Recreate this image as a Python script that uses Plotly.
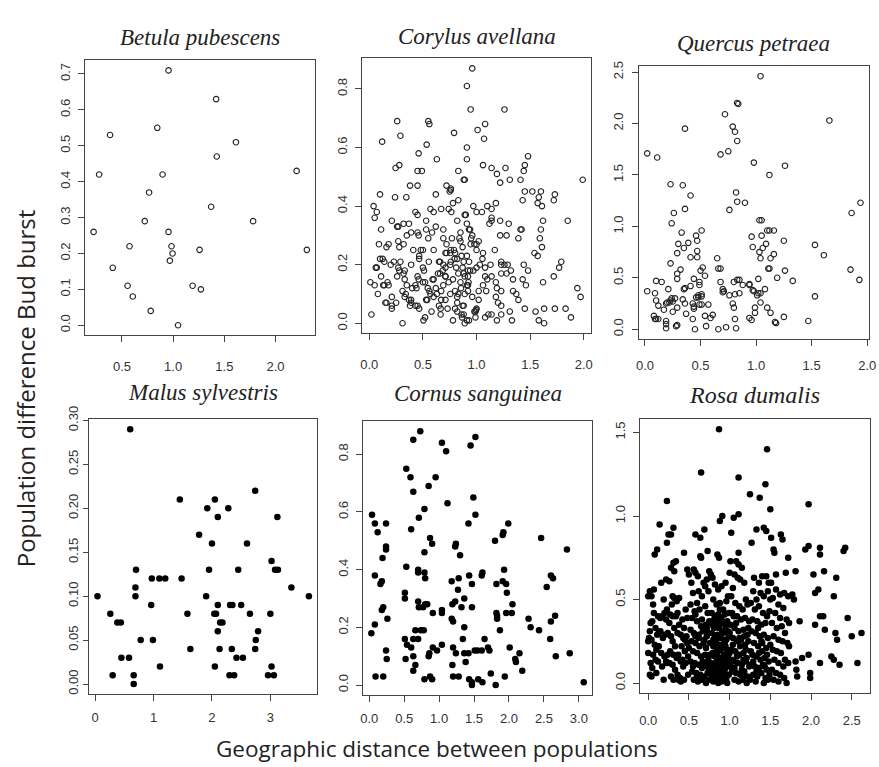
import plotly.graph_objects as go

W, H = 879, 767

# ---------------- data (x = geographic distance, y = bud burst difference) ----------------
betula = [(0.955,0.71),(1.42,0.63),(0.384,0.53),(0.845,0.55),(1.613,0.51),(1.426,0.47),(0.277,0.42),
          (0.897,0.42),(2.206,0.43),(0.765,0.37),(1.371,0.33),(0.723,0.29),(1.781,0.29),(0.223,0.26),
          (0.955,0.26),(0.574,0.22),(0.984,0.22),(0.994,0.20),(0.968,0.18),(1.258,0.21),(2.306,0.21),
          (0.41,0.16),(0.555,0.11),(1.19,0.11),(1.271,0.10),(0.606,0.08),(0.781,0.04),(1.048,0.00)]

corylus = [(0.96,0.87),(0.91,0.81),(0.945,0.73),(1.26,0.73),(0.26,0.69),(0.55,0.69),(0.56,0.68),(1.08,0.68),
 (1.01,0.66),(0.79,0.65),(0.29,0.64),(1.07,0.63),(0.12,0.62),(0.535,0.61),(0.91,0.60),(0.46,0.58),(1.48,0.57),
 (0.63,0.56),(0.91,0.56),(1.06,0.54),(1.45,0.54),(0.245,0.53),(0.28,0.54),(1.14,0.53),(1.27,0.53),(0.49,0.52),
 (0.45,0.52),(0.83,0.52),(1.44,0.52),(1.19,0.51),(1.31,0.49),(1.41,0.49),(0.88,0.49),(0.89,0.49),(1.99,0.49),
 (1.22,0.48),(0.38,0.47),(0.45,0.47),(0.72,0.47),(0.76,0.46),(0.76,0.455),(1.52,0.45),(1.60,0.45),(1.73,0.44),
 (1.45,0.45),(0.75,0.45),(0.10,0.44),(0.62,0.44),(1.58,0.43),(0.24,0.43),(0.345,0.43),(1.57,0.41),(1.43,0.42),
 (1.72,0.42),(0.83,0.42),(0.78,0.41),(1.18,0.41),(0.04,0.40),(0.97,0.40),(1.10,0.40),(1.61,0.40),(0.57,0.39),
 (0.67,0.39),(0.74,0.39),(1.14,0.39),(0.07,0.38),(0.43,0.38),(0.60,0.38),(0.765,0.38),(1.05,0.38),(1.00,0.38),
 (0.05,0.36),(1.14,0.36),(0.90,0.37),(0.45,0.37),(0.21,0.35),(0.53,0.35),(0.82,0.35),(1.85,0.35),(1.62,0.35),
 (1.14,0.35),(1.22,0.35),(0.32,0.34),(0.37,0.34),(0.91,0.34),(1.30,0.34),(1.12,0.34),(0.27,0.33),(0.26,0.33),
 (0.62,0.33),(0.11,0.32),(0.53,0.32),(0.69,0.32),(0.93,0.32),(1.41,0.32),(1.60,0.32),(1.42,0.32),(0.39,0.31),
 (0.45,0.31),(0.585,0.31),(0.85,0.31),(0.35,0.30),(0.46,0.30),(0.96,0.30),(1.22,0.30),(1.28,0.30),(1.39,0.29),
 (0.55,0.29),(0.77,0.29),(0.69,0.29),(0.84,0.29),(1.59,0.29),(0.27,0.28),(1.02,0.28),(0.09,0.27),(0.18,0.27),
 (0.32,0.27),(0.72,0.27),(0.945,0.27),(1.00,0.27),(0.16,0.26),(0.28,0.26),(0.79,0.25),(0.87,0.26),(1.00,0.25),
 (1.61,0.26),(0.41,0.25),(0.48,0.25),(0.50,0.25),(0.60,0.25),(0.755,0.24),(1.17,0.25),(1.54,0.24),(0.71,0.24),
 (1.06,0.24),(0.80,0.24),(0.465,0.23),(0.91,0.23),(1.57,0.23),(0.125,0.22),(0.10,0.22),(0.465,0.22),(0.795,0.22),
 (1.055,0.22),(0.14,0.21),(0.23,0.21),(0.29,0.21),(0.555,0.21),(0.66,0.21),(0.93,0.21),(1.23,0.21),(1.79,0.21),
 (0.20,0.20),(0.755,0.20),(1.03,0.20),(1.13,0.20),(1.26,0.20),(1.29,0.20),(1.23,0.20),(1.44,0.20),(0.07,0.19),
 (0.27,0.19),(0.50,0.19),(0.81,0.19),(1.00,0.19),(1.08,0.19),(1.77,0.19),(0.87,0.19),(0.33,0.18),(0.51,0.18),
 (0.685,0.18),(0.94,0.18),(1.32,0.18),(1.48,0.18),(0.32,0.17),(0.64,0.17),(0.88,0.17),(1.23,0.17),(1.28,0.17),
 (0.11,0.16),(0.45,0.16),(0.71,0.16),(0.92,0.16),(1.08,0.16),(1.14,0.16),(1.72,0.16),(0.33,0.15),(0.46,0.15),
 (0.60,0.15),(0.78,0.15),(1.10,0.15),(1.34,0.15),(1.43,0.15),(0.01,0.14),(0.50,0.14),(0.85,0.14),(0.925,0.14),
 (1.62,0.14),(1.18,0.14),(0.05,0.13),(0.14,0.13),(0.18,0.13),(0.35,0.13),(0.92,0.13),(1.46,0.13),(1.06,0.13),
 (0.40,0.12),(0.44,0.12),(0.545,0.12),(0.62,0.12),(0.855,0.12),(1.19,0.12),(1.94,0.12),(0.31,0.11),(0.67,0.11),
 (0.80,0.11),(1.02,0.11),(1.09,0.11),(1.34,0.11),(1.23,0.11),(0.34,0.10),(0.57,0.10),(0.755,0.10),(0.89,0.10),
 (1.37,0.10),(0.21,0.09),(0.33,0.09),(0.60,0.09),(0.82,0.09),(0.96,0.09),(1.18,0.09),(1.97,0.09),(0.37,0.08),
 (0.53,0.08),(0.67,0.08),(0.71,0.08),(1.02,0.08),(1.39,0.08),(0.15,0.07),(0.25,0.07),(0.39,0.07),(1.20,0.07),
 (0.21,0.06),(0.38,0.06),(0.43,0.06),(1.23,0.06),(0.87,0.06),(0.65,0.06),(0.21,0.05),(0.465,0.05),(0.665,0.05),
 (0.73,0.05),(0.80,0.05),(1.00,0.05),(1.45,0.05),(1.63,0.05),(1.73,0.05),(1.83,0.05),(0.58,0.04),(0.99,0.04),
 (0.995,0.045),(1.55,0.04),(1.31,0.04),(0.02,0.03),(0.665,0.03),(1.11,0.03),(1.14,0.03),(1.23,0.03),(0.86,0.03),
 (0.52,0.02),(0.865,0.02),(0.99,0.02),(1.08,0.02),(1.88,0.02),(0.505,0.01),(0.78,0.01),(1.19,0.01),(1.33,0.01),
 (1.58,0.01),(0.93,0.01),(0.31,0.00),(0.89,0.00),(1.63,0.00),
 (0.83,0.10),(0.82,0.07),(0.88,0.06),(0.82,0.04),(0.88,0.03),(0.91,0.01),(0.98,0.04),(0.92,0.11),(0.91,0.13),
 (0.89,0.16),(0.83,0.17),(0.97,0.18),(0.92,0.18),(0.88,0.21),(0.82,0.22),(0.76,0.21),(0.69,0.20),(0.66,0.17),
 (0.71,0.16),(0.71,0.19),(0.65,0.21),(0.72,0.24),(0.86,0.23),(0.69,0.13),(0.74,0.14),(0.59,0.15),(0.52,0.14),
 (0.56,0.11),(0.63,0.10),(0.54,0.08),(0.45,0.06),(0.39,0.08),(0.16,0.07),(0.08,0.10),(0.26,0.16),(0.28,0.18),
 (0.39,0.20),(0.43,0.13),(0.95,0.29),(0.98,0.27),(0.85,0.28),(0.76,0.25),(0.89,0.37),(0.94,0.32),(0.06,0.19),
 (0.13,0.13),(0.17,0.14)]

quercus = [(1.04,2.46),(0.83,2.20),(0.84,2.19),(0.72,2.09),(1.66,2.03),(0.79,1.97),(0.81,1.92),(0.36,1.95),
 (0.83,1.83),(0.02,1.71),(0.11,1.67),(0.68,1.70),(0.75,1.73),(0.98,1.62),(1.26,1.59),(1.12,1.50),(0.23,1.41),
 (0.34,1.40),(0.82,1.33),(0.41,1.30),(0.83,1.24),(0.90,1.23),(1.94,1.23),(0.36,1.17),(0.76,1.16),(0.26,1.13),
 (1.86,1.13),(1.03,1.06),(1.05,1.06),(0.24,1.03),(0.33,0.94),(1.10,0.96),(1.12,0.96),(1.16,0.96),(0.51,0.96),
 (0.46,0.91),(0.96,0.90),(1.05,0.91),(0.47,0.86),(1.25,0.86),(0.30,0.83),(0.39,0.84),(1.09,0.83),(0.97,0.80),
 (0.35,0.79),(1.06,0.79),(1.53,0.82),(0.47,0.76),(1.03,0.75),(1.16,0.73),(0.29,0.74),(1.61,0.72),(0.41,0.70),
 (0.47,0.70),(1.13,0.69),(1.04,0.69),(0.65,0.69),(0.23,0.64),(0.52,0.60),(0.66,0.59),(0.68,0.59),(1.11,0.59),
 (1.12,0.59),(0.32,0.58),(0.50,0.57),(1.26,0.57),(1.85,0.58),(0.29,0.54),(0.54,0.52),(0.29,0.49),(0.44,0.49),
 (1.02,0.49),(1.19,0.50),(1.33,0.47),(1.93,0.48),(0.10,0.47),(0.15,0.46),(0.80,0.46),(0.83,0.48),(0.85,0.48),
 (0.68,0.46),(0.49,0.46),(0.88,0.43),(0.94,0.44),(0.94,0.43),(0.49,0.43),(0.35,0.39),(0.36,0.40),(0.41,0.42),
 (0.70,0.39),(0.71,0.37),(0.70,0.36),(0.97,0.38),(0.98,0.37),(1.08,0.39),(0.02,0.37),(0.21,0.39),(0.09,0.35),
 (1.02,0.35),(1.04,0.35),(0.85,0.35),(0.81,0.34),(0.76,0.33),(0.48,0.33),(0.51,0.34),(0.51,0.32),(0.46,0.31),
 (0.48,0.31),(1.01,0.33),(0.24,0.30),(0.27,0.30),(0.23,0.28),(0.25,0.27),(0.34,0.29),(0.10,0.28),(0.19,0.25),
 (0.20,0.26),(0.22,0.26),(0.36,0.25),(0.43,0.25),(0.44,0.22),(0.49,0.24),(0.51,0.24),(0.57,0.24),(0.29,0.21),
 (0.12,0.23),(0.79,0.25),(0.80,0.21),(1.10,0.21),(0.99,0.21),(1.04,0.26),(0.44,0.20),(0.17,0.19),(0.25,0.17),
 (0.99,0.16),(1.13,0.16),(0.37,0.15),(0.61,0.14),(0.54,0.13),(0.08,0.13),(0.59,0.11),(0.10,0.10),(0.12,0.10),
 (0.09,0.10),(0.19,0.08),(0.19,0.05),(0.43,0.10),(0.81,0.10),(0.94,0.11),(0.96,0.09),(1.25,0.12),(1.17,0.07),
 (1.18,0.06),(1.47,0.08),(0.29,0.04),(0.28,0.03),(0.55,0.03),(0.73,0.02),(0.19,0.01),(0.45,0.00),(0.66,0.00),
 (0.82,0.01),(1.53,0.32)]

malus = [(0.6,0.29),(2.74,0.22),(1.45,0.21),(2.05,0.21),(1.92,0.20),(2.28,0.20),(2.10,0.19),(3.12,0.19),
 (1.78,0.17),(2.0,0.16),(2.6,0.16),(3.02,0.14),(0.7,0.13),(1.95,0.13),(2.45,0.13),(3.08,0.13),(3.13,0.13),
 (0.97,0.12),(1.1,0.12),(1.2,0.12),(1.48,0.12),(0.69,0.11),(3.36,0.11),(0.04,0.10),(0.69,0.10),(1.9,0.10),
 (3.66,0.10),(0.96,0.09),(2.1,0.09),(2.31,0.09),(2.35,0.09),(2.5,0.09),(0.26,0.08),(1.58,0.08),(2.04,0.08),
 (2.07,0.08),(2.65,0.08),(3.0,0.08),(0.38,0.07),(0.44,0.07),(2.14,0.07),(2.18,0.07),(2.1,0.06),(2.79,0.06),
 (0.78,0.05),(0.99,0.05),(2.75,0.05),(1.63,0.04),(2.13,0.04),(2.34,0.04),(2.74,0.04),(0.45,0.03),(0.58,0.03),
 (2.42,0.03),(2.53,0.03),(1.11,0.02),(2.05,0.02),(3.02,0.02),(0.3,0.01),(0.66,0.01),(2.3,0.01),(2.38,0.01),
 (2.96,0.01),(3.06,0.01),(0.66,0.00)]

cornus = [(0.73,0.88),(0.63,0.85),(1.52,0.86),(1.45,0.83),(1.04,0.84),(1.10,0.81),(0.53,0.75),(0.59,0.72),
 (0.95,0.72),(0.85,0.69),(0.63,0.67),(1.49,0.65),(1.12,0.63),(0.79,0.61),(0.04,0.59),(1.52,0.59),(0.71,0.58),
 (0.08,0.56),(0.24,0.56),(1.42,0.56),(1.99,0.56),(0.12,0.53),(0.60,0.54),(1.91,0.52),(1.92,0.53),(1.80,0.50),
 (2.46,0.51),(0.87,0.51),(0.90,0.49),(1.24,0.49),(1.23,0.48),(0.24,0.48),(0.24,0.47),(2.83,0.47),(0.79,0.46),
 (1.30,0.45),(0.19,0.44),(0.53,0.41),(0.08,0.38),(1.43,0.38),(1.61,0.38),(1.62,0.39),(2.60,0.38),(2.63,0.37),
 (0.70,0.40),(0.70,0.39),(0.79,0.39),(1.93,0.40),(0.18,0.36),(0.16,0.35),(0.80,0.37),(1.28,0.37),(1.18,0.36),
 (1.91,0.36),(1.82,0.35),(1.47,0.35),(1.96,0.35),(2.54,0.34),(1.27,0.33),(0.51,0.32),(1.97,0.32),(1.36,0.30),
 (0.51,0.30),(0.70,0.29),(1.23,0.29),(1.19,0.28),(2.05,0.28),(0.80,0.28),(0.83,0.28),(0.77,0.27),(0.20,0.27),
 (0.18,0.26),(0.71,0.27),(1.32,0.27),(1.47,0.27),(1.04,0.26),(1.04,0.25),(0.91,0.25),(1.82,0.25),(1.83,0.24),
 (1.96,0.25),(2.04,0.25),(0.26,0.23),(1.18,0.23),(1.20,0.22),(2.28,0.23),(1.83,0.23),(1.36,0.20),(0.08,0.21),
 (2.60,0.22),(2.66,0.24),(0.03,0.18),(1.87,0.19),(2.31,0.20),(2.43,0.19),(0.66,0.19),(0.74,0.19),(0.78,0.19),
 (0.51,0.16),(0.63,0.16),(0.70,0.16),(2.59,0.16),(1.34,0.16),(1.65,0.16),(0.54,0.14),(1.04,0.14),(0.60,0.13),
 (0.91,0.13),(1.20,0.13),(1.70,0.13),(2.01,0.13),(0.86,0.11),(0.85,0.10),(1.24,0.11),(1.36,0.11),(1.42,0.11),
 (1.55,0.12),(1.61,0.12),(1.72,0.12),(0.24,0.12),(0.97,0.12),(1.51,0.12),(2.15,0.11),(2.87,0.11),(0.25,0.09),
 (0.52,0.09),(2.09,0.09),(2.10,0.08),(1.38,0.08),(2.67,0.10),(0.63,0.10),(0.66,0.07),(1.19,0.07),(2.19,0.05),
 (0.63,0.05),(1.74,0.04),(0.09,0.03),(0.20,0.03),(0.87,0.03),(0.90,0.02),(1.20,0.03),(1.28,0.03),(1.94,0.03),
 (0.79,0.02),(1.43,0.02),(1.47,0.01),(1.47,0.00),(1.56,0.02),(1.62,0.01),(1.81,0.00),(3.07,0.01)]

rosa = [
 # x 0.00-0.25
 (0.23,1.09),(0.14,0.95),(0.25,0.89),(0.23,0.84),(0.11,0.80),(0.08,0.77),(0.16,0.60),(0.22,0.62),(0.02,0.55),
 (0.04,0.52),(0.00,0.52),(0.07,0.56),(0.06,0.47),(0.12,0.40),(0.15,0.39),(0.17,0.40),(0.20,0.42),(0.22,0.38),
 (0.03,0.36),(0.05,0.37),(0.09,0.33),(0.11,0.29),(0.13,0.30),(0.02,0.31),(0.04,0.26),(0.00,0.25),(0.01,0.27),
 (0.08,0.23),(0.10,0.20),(0.13,0.22),(0.16,0.18),(0.06,0.17),(0.09,0.14),(0.12,0.13),(0.20,0.16),(0.22,0.13),
 (0.24,0.17),(0.05,0.09),(0.02,0.05),(0.04,0.04),(0.10,0.06),(0.19,0.02),(0.23,0.12),(0.18,0.27),(0.21,0.29),
 (0.24,0.30),(0.23,0.44),(0.19,0.50),(0.15,0.31),(0.17,0.10),(0.03,0.12),(0.07,0.42),(0.00,0.18),
 # x 0.25-0.50
 (0.31,0.93),(0.28,0.89),(0.44,0.78),(0.31,0.72),(0.34,0.73),(0.28,0.69),(0.32,0.67),(0.48,0.68),(0.50,0.65),
 (0.26,0.61),(0.30,0.52),(0.32,0.51),(0.38,0.51),(0.35,0.49),(0.29,0.47),(0.27,0.41),(0.30,0.40),(0.34,0.40),
 (0.46,0.44),(0.48,0.39),(0.42,0.38),(0.26,0.36),(0.32,0.33),(0.36,0.30),(0.40,0.29),(0.43,0.27),(0.45,0.26),
 (0.47,0.28),(0.28,0.28),(0.30,0.25),(0.33,0.22),(0.27,0.19),(0.31,0.17),(0.35,0.15),(0.37,0.17),(0.40,0.13),
 (0.42,0.14),(0.46,0.12),(0.49,0.16),(0.26,0.12),(0.30,0.11),(0.33,0.08),(0.36,0.05),(0.39,0.03),(0.37,0.02),
 (0.40,0.01),(0.44,0.02),(0.28,0.04),(0.31,0.02),(0.48,0.24),(0.50,0.21),(0.45,0.19),(0.41,0.22),(0.49,0.05),
 (0.43,0.10),(0.38,0.35),(0.36,0.42),(0.44,0.33),
 # x 0.50-0.75
 (0.65,1.26),(0.58,0.89),(0.64,0.87),(0.69,0.92),(0.73,0.79),(0.64,0.76),(0.65,0.75),(0.58,0.66),(0.56,0.68),
 (0.61,0.64),(0.75,0.67),(0.72,0.62),(0.68,0.60),(0.70,0.58),(0.53,0.60),(0.55,0.54),(0.62,0.55),(0.66,0.52),
 (0.74,0.55),(0.60,0.48),(0.52,0.47),(0.57,0.43),(0.63,0.44),(0.70,0.46),(0.73,0.42),(0.54,0.39),(0.60,0.37),
 (0.66,0.38),(0.71,0.35),(0.75,0.37),(0.52,0.32),(0.56,0.30),(0.62,0.29),(0.67,0.31),(0.72,0.28),(0.74,0.30),
 (0.53,0.25),(0.58,0.24),(0.63,0.22),(0.68,0.24),(0.71,0.21),(0.55,0.19),(0.60,0.18),(0.65,0.16),(0.70,0.17),
 (0.74,0.15),(0.52,0.13),(0.57,0.12),(0.62,0.11),(0.67,0.13),(0.72,0.10),(0.54,0.07),(0.59,0.06),(0.64,0.05),
 (0.69,0.04),(0.73,0.06),(0.56,0.02),(0.61,0.01),(0.66,0.02),(0.71,0.00),(0.74,0.02),(0.69,0.26),(0.65,0.34),
 (0.58,0.41),
 # x 0.75-1.00
 (0.87,1.52),(0.91,1.00),(0.88,0.97),(0.85,0.77),(0.87,0.75),(0.77,0.65),(0.79,0.63),(0.82,0.59),(0.86,0.56),
 (0.90,0.58),(0.95,0.60),(0.98,0.52),(0.96,0.49),(0.80,0.50),(0.84,0.47),(0.88,0.48),(0.92,0.44),(0.78,0.42),
 (0.82,0.40),(0.86,0.41),(0.90,0.39),(0.94,0.41),(0.99,0.42),(0.77,0.36),(0.80,0.34),(0.84,0.35),(0.87,0.33),
 (0.91,0.36),(0.95,0.34),(0.98,0.31),(0.78,0.30),(0.82,0.28),(0.85,0.29),(0.89,0.27),(0.92,0.30),(0.96,0.26),
 (0.99,0.28),(0.76,0.24),(0.80,0.22),(0.83,0.25),(0.87,0.23),(0.90,0.21),(0.94,0.24),(0.97,0.20),(0.79,0.18),
 (0.82,0.16),(0.86,0.19),(0.89,0.15),(0.93,0.17),(0.96,0.14),(1.00,0.18),(0.77,0.12),(0.81,0.11),(0.84,0.13),
 (0.88,0.10),(0.91,0.12),(0.95,0.09),(0.98,0.11),(0.78,0.06),(0.82,0.05),(0.85,0.07),(0.89,0.04),(0.92,0.06),
 (0.96,0.03),(0.99,0.05),(0.80,0.01),(0.83,0.02),(0.86,0.00),(0.90,0.01),(0.94,0.02),(0.97,0.00),(0.81,0.33),
 (0.93,0.26),(0.88,0.14),(0.84,0.21),(0.91,0.08),(0.79,0.09),(0.97,0.37),(0.86,0.38),(0.80,0.26),
 # x 1.00-1.25
 (1.11,1.23),(1.11,1.01),(1.05,0.99),(1.02,0.90),(1.11,0.78),(1.01,0.73),(1.08,0.73),(1.11,0.71),(1.15,0.69),
 (1.00,0.66),(1.06,0.65),(1.10,0.63),(1.13,0.62),(1.18,0.60),(1.04,0.57),(1.20,0.50),(1.02,0.52),(1.07,0.48),
 (1.12,0.46),(1.16,0.44),(1.22,0.47),(1.03,0.42),(1.09,0.40),(1.14,0.38),(1.19,0.39),(1.24,0.37),(1.01,0.35),
 (1.06,0.33),(1.11,0.31),(1.17,0.32),(1.22,0.29),(1.04,0.27),(1.09,0.25),(1.14,0.26),(1.19,0.23),(1.23,0.25),
 (1.02,0.20),(1.07,0.19),(1.12,0.17),(1.17,0.18),(1.21,0.15),(1.05,0.13),(1.10,0.12),(1.15,0.11),(1.20,0.13),
 (1.24,0.10),(1.03,0.07),(1.08,0.06),(1.13,0.05),(1.18,0.07),(1.22,0.04),(1.06,0.02),(1.11,0.01),(1.16,0.02),
 (1.21,0.00),(1.25,0.02),(1.13,0.22),(1.08,0.36),(1.18,0.28),(1.01,0.10),
 # x 1.25-1.50
 (1.46,1.40),(1.44,1.19),(1.25,1.13),(1.37,1.11),(1.33,0.92),(1.42,0.93),(1.45,0.91),(1.27,0.84),(1.30,0.63),
 (1.40,0.64),(1.45,0.64),(1.36,0.60),(1.48,0.60),(1.29,0.55),(1.38,0.54),(1.42,0.52),(1.47,0.55),(1.50,0.50),
 (1.33,0.50),(1.26,0.48),(1.31,0.44),(1.36,0.46),(1.41,0.42),(1.46,0.40),(1.49,0.43),(1.28,0.38),(1.34,0.37),
 (1.39,0.35),(1.44,0.36),(1.27,0.31),(1.32,0.30),(1.37,0.28),(1.42,0.29),(1.47,0.27),(1.30,0.24),(1.35,0.22),
 (1.40,0.24),(1.45,0.21),(1.50,0.23),(1.28,0.17),(1.33,0.16),(1.38,0.14),(1.43,0.15),(1.48,0.13),(1.26,0.11),
 (1.31,0.10),(1.36,0.09),(1.41,0.11),(1.46,0.08),(1.29,0.05),(1.34,0.04),(1.39,0.06),(1.44,0.03),(1.49,0.05),
 (1.32,0.01),(1.42,0.00),(1.47,0.02),(1.40,0.19),(1.35,0.33),
 # x 1.50-1.75
 (1.50,1.04),(1.51,0.87),(1.63,0.89),(1.65,0.86),(1.54,0.80),(1.55,0.78),(1.72,0.75),(1.57,0.65),(1.69,0.66),
 (1.51,0.60),(1.57,0.56),(1.62,0.53),(1.67,0.54),(1.72,0.52),(1.53,0.51),(1.60,0.47),(1.66,0.45),(1.70,0.38),
 (1.56,0.42),(1.62,0.39),(1.52,0.36),(1.58,0.33),(1.64,0.34),(1.68,0.30),(1.73,0.36),(1.54,0.28),(1.60,0.26),
 (1.65,0.25),(1.71,0.24),(1.53,0.20),(1.58,0.19),(1.63,0.18),(1.68,0.14),(1.55,0.14),(1.60,0.12),(1.66,0.10),
 (1.72,0.12),(1.52,0.08),(1.57,0.06),(1.62,0.05),(1.67,0.03),(1.54,0.02),(1.60,0.01),(1.70,0.00),(1.73,0.22),
 # x > 1.75
 (1.97,1.07),(1.93,0.80),(1.97,0.82),(2.11,0.81),(2.11,0.77),(2.42,0.81),(2.40,0.79),(1.81,0.67),(2.03,0.65),
 (2.16,0.67),(2.31,0.63),(2.28,0.52),(2.05,0.54),(2.09,0.56),(1.77,0.53),(1.79,0.50),(2.11,0.40),(2.15,0.40),
 (2.45,0.39),(2.05,0.35),(2.17,0.32),(2.30,0.30),(2.32,0.26),(2.50,0.28),(2.62,0.30),(1.86,0.37),(2.11,0.12),
 (2.25,0.16),(2.28,0.14),(2.35,0.11),(2.57,0.12),(1.89,0.15),(1.97,0.17),(1.99,0.06),(1.99,0.03),(1.82,0.08),
 (1.83,0.04),(1.81,0.13),
 # dense core, extra
 (0.62,0.27),(0.66,0.09),(0.70,0.12),(0.76,0.17),(0.78,0.03),(0.83,0.08),(0.85,0.16),(0.87,0.28),(0.89,0.20),
 (0.91,0.31),(0.93,0.13),(0.95,0.22),(0.98,0.15),(1.00,0.30),(1.02,0.14),(1.04,0.23),(1.06,0.09),(1.09,0.16),
 (1.12,0.27),(1.15,0.08),(1.17,0.14),(1.20,0.20),(1.23,0.33),(1.26,0.19),(1.29,0.13),(1.33,0.07),(1.36,0.18),
 (1.39,0.25),(1.43,0.10),(1.46,0.17),(0.55,0.10),(0.58,0.28),(0.60,0.04),(0.72,0.33),(0.75,0.08),(0.81,0.38),
 (0.88,0.44),(0.94,0.06),(1.05,0.40),(1.16,0.05)]

titles = ["Betula pubescens", "Corylus avellana", "Quercus petraea",
          "Malus sylvestris", "Cornus sanguinea", "Rosa dumalis"]

x_ticks = [[0.5, 1.0, 1.5, 2.0], [0.0, 0.5, 1.0, 1.5, 2.0], [0.0, 0.5, 1.0, 1.5, 2.0],
           [0, 1, 2, 3], [0.0, 0.5, 1.0, 1.5, 2.0, 2.5, 3.0], [0.0, 0.5, 1.0, 1.5, 2.0, 2.5]]
x_labels = [["0.5", "1.0", "1.5", "2.0"], ["0.0", "0.5", "1.0", "1.5", "2.0"],
            ["0.0", "0.5", "1.0", "1.5", "2.0"], ["0", "1", "2", "3"],
            ["0.0", "0.5", "1.0", "1.5", "2.0", "2.5", "3.0"],
            ["0.0", "0.5", "1.0", "1.5", "2.0", "2.5"]]
y_ticks = [[0.0, 0.1, 0.2, 0.3, 0.4, 0.5, 0.6, 0.7], [0.0, 0.2, 0.4, 0.6, 0.8],
           [0.0, 0.5, 1.0, 1.5, 2.0, 2.5], [0.00, 0.05, 0.10, 0.15, 0.20, 0.25, 0.30],
           [0.0, 0.2, 0.4, 0.6, 0.8], [0.0, 0.5, 1.0, 1.5]]
y_labels = [["0.0", "0.1", "0.2", "0.3", "0.4", "0.5", "0.6", "0.7"],
            ["0.0", "0.2", "0.4", "0.6", "0.8"],
            ["0.0", "0.5", "1.0", "1.5", "2.0", "2.5"],
            ["0.00", "0.05", "0.10", "0.15", "0.20", "0.25", "0.30"],
            ["0.0", "0.2", "0.4", "0.6", "0.8"], ["0.0", "0.5", "1.0", "1.5"]]

y_title = "Population difference Bud burst"
x_title = "Geographic distance between populations"

# ---------------- layout (per panel pixel geometry) ----------------
boxes = [(83, 48, 316, 328), (363, 46, 595, 326), (643, 54, 876, 332),
         (87, 413, 318, 693), (364, 415, 596, 694), (644, 413, 877, 692)]
title_baseline = [33, 32, 39, 394, 395, 397]
title_size = [23, 23, 23, 23, 23, 24]
x_standoff = [13, 13, 8, 5, 5, 9]
y_standoff = [3, 3, 3, 0, 3, 2]
y_ticklen = [6, 6, 6, 5, 6, 6]

datasets = [betula, corylus, quercus, malus, cornus, rosa]


def r_range(v):
    lo, hi = min(v), max(v)
    pad = 0.04 * (hi - lo)
    return [lo - pad, hi + pad]


fig = go.Figure()
layout = {}
annotations = []
tick_font = dict(family="Liberation Sans, Arial, sans-serif", size=13, color="#333")

for i, (pts, box) in enumerate(zip(datasets, boxes)):
    xs = [p[0] for p in pts]
    ys = [p[1] for p in pts]
    k = "" if i == 0 else str(i + 1)
    hollow = i < 3
    marker = (dict(symbol="circle-open", size=5.5, color="#222", line=dict(width=1.1, color="#222"))
              if hollow else dict(symbol="circle", size=6.5, color="#000", line=dict(width=0)))
    fig.add_trace(go.Scatter(x=xs, y=ys, mode="markers", marker=marker,
                             xaxis="x" + k, yaxis="y" + k, showlegend=False, hoverinfo="skip"))
    l, t, r, b = box
    common = dict(showline=True, linecolor="#444", linewidth=1, mirror=True, ticks="outside",
                  tickwidth=1, tickcolor="#444", showgrid=False, zeroline=False,
                  tickfont=tick_font, tickmode="array", fixedrange=True)
    layout["xaxis" + k] = dict(common, domain=[l / W, r / W], anchor="y" + k, range=r_range(xs),
                              tickvals=x_ticks[i], ticktext=x_labels[i], ticklen=6,
                              ticklabelstandoff=x_standoff[i], ticklabeloverflow="allow")
    layout["yaxis" + k] = dict(common, domain=[1 - b / H, 1 - t / H], anchor="x" + k, range=r_range(ys),
                              tickvals=y_ticks[i], ticktext=y_labels[i], tickangle=-90,
                              ticklen=y_ticklen[i], ticklabelstandoff=y_standoff[i])
    fs = title_size[i]
    annotations.append(dict(text="<i>" + titles[i] + "</i>", x=(l + r) / 2 / W,
                            y=1 - (title_baseline[i] - 0.3375 * fs) / H, xref="paper", yref="paper",
                            showarrow=False, xanchor="center", yanchor="middle",
                            font=dict(family="Liberation Serif, Times New Roman, serif", size=fs,
                                      color="#222")))

annotations.append(dict(text=y_title, x=23 / W, y=1 - 382 / H, xref="paper", yref="paper",
                        showarrow=False, textangle=-90, xanchor="center", yanchor="middle",
                        font=dict(family="Open Sans, Noto Sans, sans-serif", size=24, color="#222")))
annotations.append(dict(text=x_title, x=439 / W, y=1 - 748 / H, xref="paper", yref="paper",
                        showarrow=False, xanchor="center", yanchor="middle",
                        font=dict(family="Open Sans, Noto Sans, sans-serif", size=22.5, color="#222")))

fig.update_layout(width=W, height=H, margin=dict(l=0, r=0, t=0, b=0),
                  paper_bgcolor="white", plot_bgcolor="white", annotations=annotations, **layout)

fig.write_html("out.html", config={"displayModeBar": False},
               post_script="document.body.style.margin='0';document.body.style.padding='0';"
                           "document.body.style.overflow='hidden';")
